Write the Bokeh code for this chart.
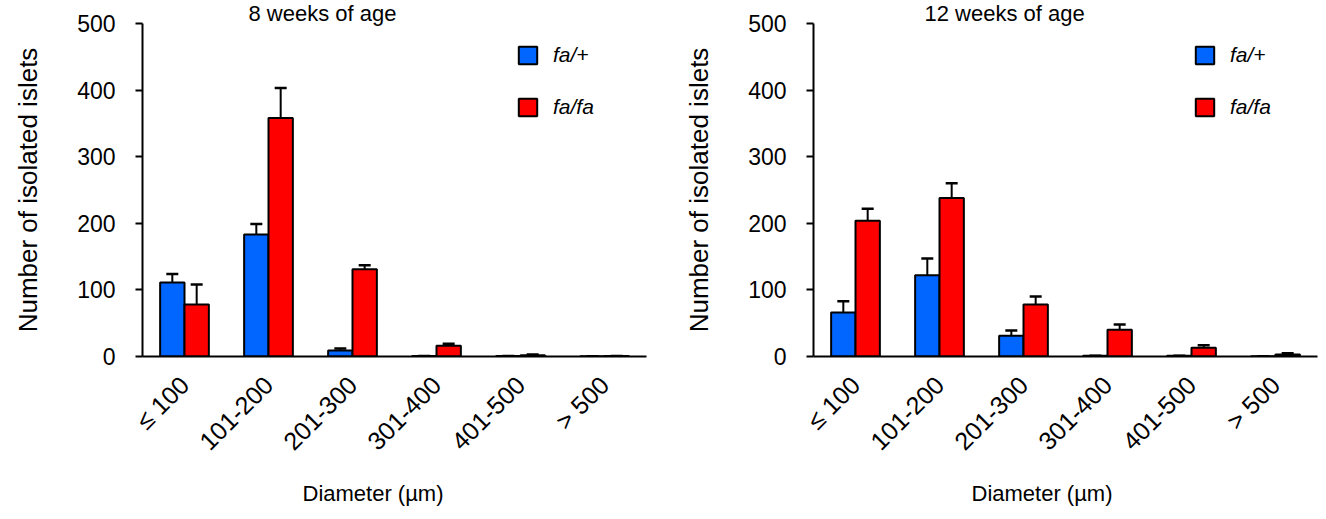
import math
from bokeh.plotting import figure
from bokeh.models import ColumnDataSource, Whisker, TeeHead, Legend, LegendItem, Title, FactorRange
from bokeh.transform import dodge
from bokeh.layouts import row
from bokeh.embed import file_html
from bokeh.resources import INLINE

categories = ["≤ 100", "101-200", "201-300", "301-400", "401-500", "> 500"]

wk8_het = [111, 183, 9, 0.6, 0.6, 0.4]
wk8_het_err = [13, 16, 3, 0, 0, 0]
wk8_hom = [78, 358, 131, 16, 2, 0.6]
wk8_hom_err = [30, 45, 6, 3, 1, 0]

wk12_het = [66, 122, 31, 1, 1, 0.4]
wk12_het_err = [17, 25, 8, 0, 0, 0]
wk12_hom = [204, 238, 78, 40, 13, 3]
wk12_hom_err = [18, 22, 12, 8, 4, 2]

titles = ["8 weeks of age", "12 weeks of age"]
series_labels = ["fa/+", "fa/fa"]
colors = ["#0066ff", "#ff0000"]
y_ticks = [0, 100, 200, 300, 400, 500]

FONT = "Liberation Sans"
BAR_W = 0.29


def make_panel(het, het_err, hom, hom_err, title, width, border_left, border_right,
               title_off, xlab_off, legend_x):
    p = figure(x_range=FactorRange(*categories), y_range=(0, 500),
               width=width, height=515, output_backend="svg", toolbar_location=None,
               min_border_left=border_left, min_border_right=border_right,
               min_border_top=22, min_border_bottom=157)
    p.outline_line_color = None
    p.xgrid.grid_line_color = None
    p.ygrid.grid_line_color = None

    src = ColumnDataSource(dict(
        cat=categories,
        het=het, het_up=[a + b for a, b in zip(het, het_err)],
        hom=hom, hom_up=[a + b for a, b in zip(hom, hom_err)],
    ))
    renderers = []
    for key, off, col in (("het", -BAR_W / 2, colors[0]), ("hom", BAR_W / 2, colors[1])):
        r = p.vbar(x=dodge("cat", off, range=p.x_range), top=key, width=BAR_W, source=src,
                   fill_color=col, line_color="black", line_width=2)
        renderers.append(r)
        w = Whisker(base=dodge("cat", off, range=p.x_range), lower=key, upper=key + "_up",
                    source=src, line_color="black", line_width=2,
                    upper_head=TeeHead(size=12, line_color="black", line_width=2.5),
                    lower_head=None)
        p.add_layout(w)

    p.yaxis.ticker = y_ticks
    p.yaxis.axis_label = "Number of isolated islets"
    p.yaxis.axis_label_text_font = FONT
    p.yaxis.axis_label_text_font_size = "26px"
    p.yaxis.axis_label_text_font_style = "normal"
    p.yaxis.axis_label_text_color = "black"
    p.yaxis.axis_label_standoff = 31
    p.yaxis.major_label_text_font = FONT
    p.yaxis.major_label_text_font_size = "23px"
    p.yaxis.major_label_text_color = "black"
    p.yaxis.major_label_standoff = 20
    p.yaxis.major_tick_out = 7
    p.yaxis.major_tick_in = 0
    p.yaxis.minor_tick_line_color = None
    p.yaxis.axis_line_width = 2
    p.yaxis.major_tick_line_width = 2

    p.xaxis.major_label_orientation = math.pi / 4
    p.xaxis.major_label_text_font = FONT
    p.xaxis.major_label_text_font_size = "25px"
    p.xaxis.major_label_text_color = "black"
    p.xaxis.major_label_standoff = 18
    p.xaxis.major_tick_line_color = None
    p.xaxis.minor_tick_line_color = None
    p.xaxis.axis_line_width = 2

    p.add_layout(Title(text=title, align="left", offset=title_off, standoff=-4,
                       text_font=FONT, text_font_size="22px", text_font_style="normal",
                       text_color="black"), "above")
    p.add_layout(Title(text="Diameter (µm)", align="left", offset=xlab_off, standoff=20,
                       text_font=FONT, text_font_size="22px", text_font_style="normal",
                       text_color="black"), "below")

    legend = Legend(items=[LegendItem(label=series_labels[0], renderers=[renderers[0]]),
                           LegendItem(label=series_labels[1], renderers=[renderers[1]])],
                    location=(legend_x, 237), orientation="vertical")
    legend.glyph_width = 23
    legend.glyph_height = 22
    legend.label_height = 22
    legend.label_standoff = 14
    legend.spacing = 28
    legend.padding = 0
    legend.margin = 0
    legend.border_line_color = None
    legend.background_fill_alpha = 0
    legend.label_text_font = FONT
    legend.label_text_font_size = "21px"
    legend.label_text_font_style = "italic"
    legend.label_text_color = "black"
    p.add_layout(legend)
    return p


p1 = make_panel(wk8_het, wk8_het_err, wk8_hom, wk8_hom_err, titles[0],
                670, 142, 24, 106, 160, 374)
p2 = make_panel(wk12_het, wk12_het_err, wk12_hom, wk12_hom_err, titles[1],
                650, 143, 3, 111, 158, 380)

layout = row(p1, p2)
open("out.html", "w").write(file_html(layout, INLINE))
